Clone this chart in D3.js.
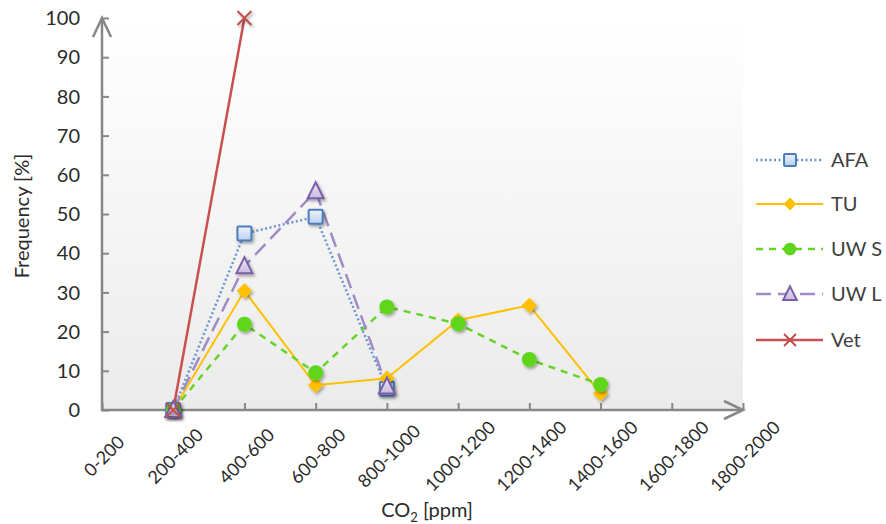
<!DOCTYPE html>
<html>
<head>
<meta charset="utf-8">
<script src="https://cdn.jsdelivr.net/npm/d3@7"></script>
<style>
  body { margin: 0; background: #fff; }
  text { font-family: Lato, "Open Sans", sans-serif; fill: #2b2b2b; }
</style>
</head>
<body>
<div id="chart"></div>
<script>
const categories = ["0-200", "200-400", "400-600", "600-800", "800-1000",
  "1000-1200", "1200-1400", "1400-1600", "1600-1800", "1800-2000"];
const yTicks = [0, 10, 20, 30, 40, 50, 60, 70, 80, 90, 100];

// frequency [%] per CO2 class, null = no value
const afa = [null, 0, 45, 49.3, 5.4, null, null, null, null, null];
const tu = [null, 0, 30.4, 6.3, 8.1, 22.9, 26.7, 4.2, null, null];
const uwS = [null, 0, 21.9, 9.5, 26.3, 22, 12.9, 6.5, null, null];
const uwL = [null, 0, 36.7, 55.8, 6, null, null, null, null, null];
const vet = [null, 0, 100, null, null, null, null, null, null, null];

const seriesNames = ["AFA", "TU", "UW S", "UW L", "Vet"];

const width = 886, height = 524;
const plotL = 102, plotR = 743, plotT = 18, plotB = 410;

const svg = d3.select("#chart").append("svg")
  .attr("width", width)
  .attr("height", height);

const defs = svg.append("defs");
const grad = defs.append("linearGradient")
  .attr("id", "plotBg").attr("x1", 0).attr("y1", 0).attr("x2", 0).attr("y2", 1);
grad.append("stop").attr("offset", "0%").attr("stop-color", "#ffffff");
grad.append("stop").attr("offset", "100%").attr("stop-color", "#ebebeb");

const sq = defs.append("linearGradient")
  .attr("id", "sqFill").attr("x1", 0).attr("y1", 0).attr("x2", 0).attr("y2", 1);
sq.append("stop").attr("offset", "0%").attr("stop-color", "#eef3fb");
sq.append("stop").attr("offset", "100%").attr("stop-color", "#b9cff0");

const tri = defs.append("linearGradient")
  .attr("id", "triFill").attr("x1", 0).attr("y1", 0).attr("x2", 0).attr("y2", 1);
tri.append("stop").attr("offset", "0%").attr("stop-color", "#ece6f4");
tri.append("stop").attr("offset", "100%").attr("stop-color", "#c9bbdf");

const shadow = defs.append("filter").attr("id", "shadow")
  .attr("x", "-50%").attr("y", "-50%").attr("width", "200%").attr("height", "200%");
shadow.append("feDropShadow")
  .attr("dx", 1.5).attr("dy", 2).attr("stdDeviation", 1.5)
  .attr("flood-color", "#000").attr("flood-opacity", 0.35);

const x = d3.scalePoint().domain(categories).range([plotL, plotR]);
const y = d3.scaleLinear().domain([0, 100]).range([plotB, plotT]);

svg.append("rect")
  .attr("x", plotL).attr("y", plotT)
  .attr("width", plotR - plotL).attr("height", plotB - plotT)
  .attr("fill", "url(#plotBg)");

// axes
const axisColor = "#878787";
const yAxis = svg.append("g").attr("transform", `translate(${plotL},0)`)
  .call(d3.axisRight(y).tickValues(yTicks).tickSize(7).tickFormat(""));
yAxis.select(".domain").remove();
yAxis.selectAll("line").attr("stroke", axisColor).attr("stroke-width", 2);

const xAxis = svg.append("g").attr("transform", `translate(0,${plotB})`)
  .call(d3.axisTop(x).tickSize(7).tickFormat(""));
xAxis.select(".domain").remove();
xAxis.selectAll("line").attr("stroke", axisColor).attr("stroke-width", 2);

svg.append("line")
  .attr("x1", plotL).attr("x2", plotL).attr("y1", plotB + 1).attr("y2", plotT)
  .attr("stroke", axisColor).attr("stroke-width", 2.5);
svg.append("line")
  .attr("x1", plotL - 1).attr("x2", plotR).attr("y1", plotB).attr("y2", plotB)
  .attr("stroke", axisColor).attr("stroke-width", 2.5);
// arrow heads
svg.append("path")
  .attr("d", `M${plotL - 9},${plotT + 19}L${plotL},${plotT}L${plotL + 9},${plotT + 19}`)
  .attr("fill", "none").attr("stroke", axisColor).attr("stroke-width", 2.5);
svg.append("path")
  .attr("d", `M${plotR - 19},${plotB - 9}L${plotR},${plotB}L${plotR - 19},${plotB + 9}`)
  .attr("fill", "none").attr("stroke", axisColor).attr("stroke-width", 2.5);

// tick labels
svg.append("g").selectAll("text")
  .data(yTicks)
  .join("text")
  .attr("x", 80)
  .attr("y", d => y(d))
  .attr("dy", "0.36em")
  .attr("text-anchor", "end")
  .style("font-size", "20px")
  .text(d => d);

svg.append("g").selectAll("text")
  .data(categories)
  .join("text")
  .attr("transform", d => `translate(${x(d) + 2},${456}) rotate(-45)`)
  .attr("dy", "0.36em")
  .attr("text-anchor", "middle")
  .style("font-size", "18px")
  .text(d => d);

svg.append("text")
  .attr("transform", "translate(22,216) rotate(-90)")
  .attr("dy", "0.36em")
  .attr("text-anchor", "middle")
  .style("font-size", "20px")
  .text("Frequency [%]");

const xt = svg.append("text")
  .attr("x", 427).attr("y", 517)
  .attr("text-anchor", "middle")
  .style("font-size", "20px");
xt.append("tspan").text("CO");
xt.append("tspan").attr("dy", 5).style("font-size", "13px").text("2");
xt.append("tspan").attr("dy", -5).text(" [ppm]");

// series
const series = [
  { name: "AFA", values: afa, color: "#6b96cf", width: 2.5, dash: "2,2.5", marker: "square" },
  { name: "TU", values: tu, color: "#ffc000", width: 2, dash: null, marker: "diamond" },
  { name: "UW S", values: uwS, color: "#66d22a", width: 2.5, dash: "7,6", marker: "circle" },
  { name: "UW L", values: uwL, color: "#a08cc4", width: 2.5, dash: "15,7", marker: "triangle" },
  { name: "Vet", values: vet, color: "#c9504f", width: 2.5, dash: null, marker: "x" }
];

const line = d3.line()
  .defined(d => d.v !== null)
  .x(d => x(d.c))
  .y(d => y(d.v));

function drawMarker(g, type, s) {
  if (type === "square") {
    g.append("rect").attr("x", -7 * s).attr("y", -7 * s)
      .attr("width", 14 * s).attr("height", 14 * s).attr("rx", 1)
      .attr("fill", "url(#sqFill)").attr("stroke", "#4a7ebb").attr("stroke-width", 2);
  } else if (type === "diamond") {
    g.append("path").attr("d", d3.symbol(d3.symbolDiamond2, 150 * s * s)())
      .attr("fill", "#ffc000");
  } else if (type === "circle") {
    g.append("circle").attr("r", 7.5 * s).attr("fill", "#5fd61e");
  } else if (type === "triangle") {
    g.append("path")
      .attr("d", `M0,${-9 * s}L${8 * s},${7 * s}L${-8 * s},${7 * s}Z`)
      .attr("fill", "url(#triFill)").attr("stroke", "#7a5fa8").attr("stroke-width", 2);
  } else if (type === "x") {
    g.append("path")
      .attr("d", `M${-7 * s},${-7 * s}L${7 * s},${7 * s}M${-7 * s},${7 * s}L${7 * s},${-7 * s}`)
      .attr("stroke", "#c0504d").attr("stroke-width", 2);
  }
}

series.forEach(s => {
  const pts = categories.map((c, i) => ({ c: c, v: s.values[i] }));
  svg.append("path")
    .datum(pts)
    .attr("d", line)
    .attr("fill", "none")
    .attr("stroke", s.color)
    .attr("stroke-width", s.width)
    .attr("stroke-dasharray", s.dash);
});

series.forEach(s => {
  const pts = categories.map((c, i) => ({ c: c, v: s.values[i] }))
    .filter(d => d.v !== null);
  svg.append("g").attr("filter", "url(#shadow)")
    .selectAll("g")
    .data(pts)
    .join("g")
    .attr("transform", d => `translate(${x(d.c)},${y(d.v)})`)
    .each(function() { drawMarker(d3.select(this), s.marker, 1); });
});

// legend
const legendY = [160, 204, 249, 294, 340];
const legend = svg.append("g");
series.forEach((s, i) => {
  const g = legend.append("g").attr("transform", `translate(0,${legendY[i]})`);
  g.append("line").attr("x1", 756).attr("x2", 823)
    .attr("stroke", s.color).attr("stroke-width", s.width)
    .attr("stroke-dasharray", s.dash);
  drawMarker(g.append("g").attr("transform", "translate(790,0)"), s.marker, 0.85);
  g.append("text").attr("x", 831).attr("dy", "0.36em")
    .style("font-size", "20px").style("fill", "#404040").text(s.name);
});
</script>
</body>
</html>
